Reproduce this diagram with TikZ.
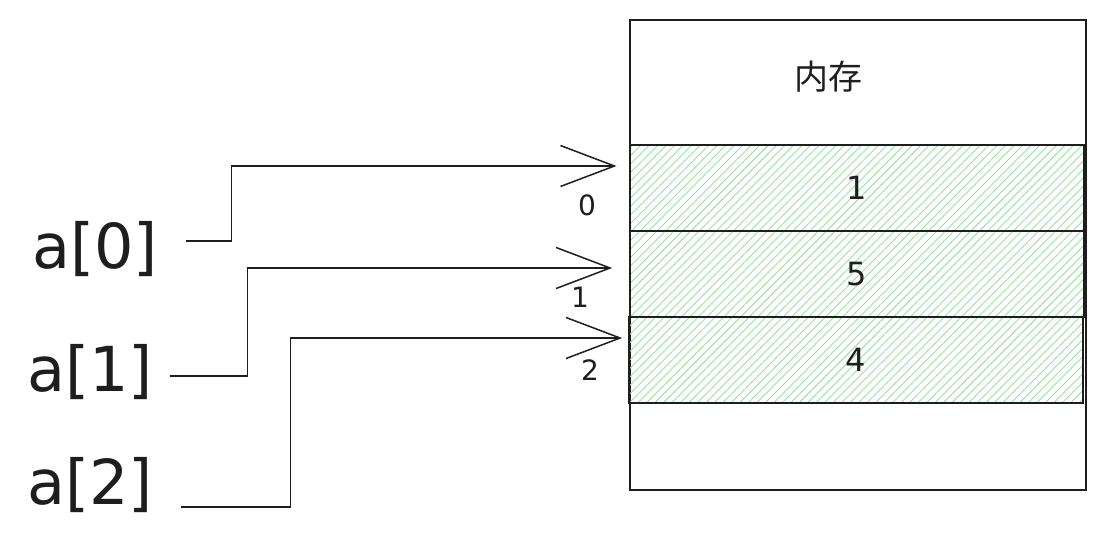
\documentclass[tikz,border=0pt]{standalone}
\usepackage{fontspec}
\setmainfont{DejaVu Sans}
\newfontfamily\cjkfont{Noto Sans CJK SC}
\usetikzlibrary{arrows.meta, patterns.meta}
\definecolor{jet}{HTML}{1E1E1E}
\definecolor{hatch-green}{HTML}{9ADFA6}

\begin{document}
\begin{tikzpicture}[x=1pt, y=-1pt, line width=1.6pt, color=jet,
    cellbox/.style={draw, inner sep=0pt, minimum width=454pt, minimum height=86pt,
      pattern={Lines[angle=45, distance=6pt, line width=0.9pt]},
      pattern color=hatch-green, font=\fontsize{32}{34}\selectfont},
    varlabel/.style={inner sep=0pt, font=\fontsize{62}{64}\selectfont},
    idxlabel/.style={inner sep=0pt, font=\fontsize{28}{30}\selectfont},
    link/.style={line width=1.5pt, -{Straight Barb[length=54pt, width=41pt]}}]
    \useasboundingbox (0,0) rectangle (1106,557);

    % memory block
    \node[draw, inner sep=0pt, minimum width=456pt, minimum height=470pt] (mem)
      at (858, 255) {};
    \node[font=\cjkfont\fontsize{34}{36}\selectfont] (memlabel) at (828, 77) {内存};

    \node[cellbox] (c0) at (857, 188) {1};
    \node[cellbox] (c1) at (857, 274) {5};
    \node[cellbox] (c2) at (856, 360) {4};

    % array elements
    \node[varlabel] (a0) at (95, 249) {a[0]};
    \node[varlabel] (a1) at (90, 372) {a[1]};
    \node[varlabel] (a2) at (90, 485) {a[2]};

    \node[idxlabel] (i0) at (587, 205) {0};
    \node[idxlabel] (i1) at (580, 297) {1};
    \node[idxlabel] (i2) at (590, 370) {2};

    \coordinate (p0) at ([shift={(-13,-22)}]c0.west);
    \coordinate (p1) at ([shift={(-17,-6)}]c1.west);
    \coordinate (p2) at ([shift={(-6,-22)}]c2.west);

    \draw[link] ([shift={(27,-8)}]a0.east) -- ++(46,0) |- (p0);
    \draw[link] ([shift={(16,4)}]a1.east) -- ++(78,0) |- (p1);
    \draw[link] ([shift={(27,22)}]a2.east) -- ++(110,0) |- (p2);
  \end{tikzpicture}
\end{document}
